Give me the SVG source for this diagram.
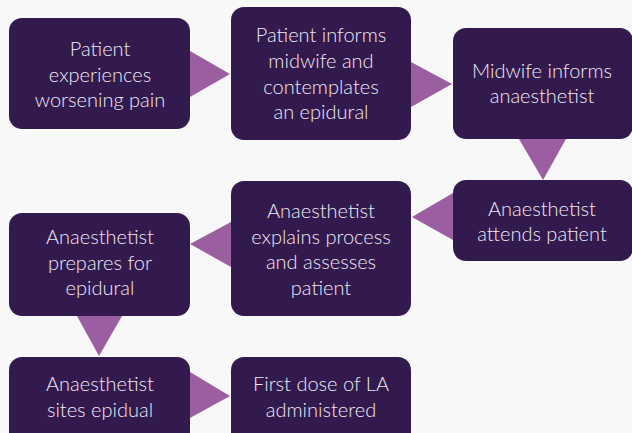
<svg xmlns="http://www.w3.org/2000/svg" width="632" height="433" viewBox="0 0 632 433">
<style>
.bg{fill:#f8f8f8}
.n{fill:#321a4e}
.a{fill:#9b5ea0}
text{font-family:Lato,"Liberation Sans",sans-serif;font-size:20px;fill:#f0e8f2;text-anchor:middle;font-weight:300}
</style>
<rect class="bg" x="0" y="0" width="632" height="433"/>
<g id="connectors">
<polygon class="a" points="190,51 230,74 190,97"/>
<polygon class="a" points="411,62 452,84 411,107"/>
<polygon class="a" points="519,139 566,139 543,180"/>
<polygon class="a" points="453,193 412,217 453,240"/>
<polygon class="a" points="231,222 190,244 231,267"/>
<polygon class="a" points="77,316 122,316 99,356"/>
<polygon class="a" points="190,372 230,396 190,418"/>
</g>
<g id="n1"><rect class="n" x="9" y="18" width="181" height="111" rx="13"/>
<text x="100" y="56">Patient</text><text x="100" y="82">experiences</text><text x="100" y="107">worsening pain</text></g>
<g id="n2"><rect class="n" x="231" y="7" width="180" height="133" rx="13"/>
<text x="321" y="42">Patient informs</text><text x="321" y="68">midwife and</text><text x="321" y="94">contemplates</text><text x="321" y="119">an epidural</text></g>
<g id="n3"><rect class="n" x="453" y="28" width="180" height="111" rx="13"/>
<text x="542" y="78">Midwife informs</text><text x="542" y="103">anaesthetist</text></g>
<g id="n4"><rect class="n" x="453" y="180" width="180" height="81" rx="13"/>
<text x="542" y="216">Anaesthetist</text><text x="542" y="241">attends patient</text></g>
<g id="n5"><rect class="n" x="231" y="181" width="180" height="135" rx="13"/>
<text x="321" y="218">Anaesthetist</text><text x="321" y="244">explains process</text><text x="321" y="269">and assesses</text><text x="321" y="295">patient</text></g>
<g id="n6"><rect class="n" x="9" y="213" width="181" height="103" rx="13"/>
<text x="100" y="244">Anaesthetist</text><text x="100" y="270">prepares for</text><text x="100" y="295">epidural</text></g>
<g id="n7"><rect class="n" x="9" y="357" width="181" height="90" rx="13"/>
<text x="100" y="391">Anaesthetist</text><text x="100" y="417">sites epidual</text></g>
<g id="n8"><rect class="n" x="231" y="357" width="180" height="90" rx="13"/>
<text x="321" y="391">First dose of LA</text><text x="321" y="417">administered</text></g>
</svg>
